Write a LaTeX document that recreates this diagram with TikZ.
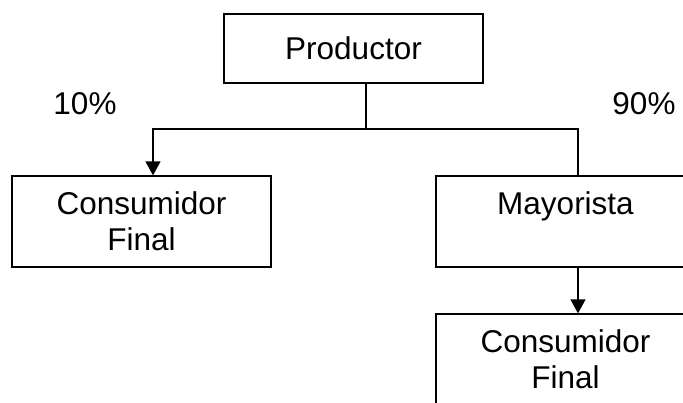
\documentclass[tikz,border=0pt]{standalone}
\usepackage{fontspec}
\setmainfont{Liberation Sans}
\usetikzlibrary{arrows.meta}
\tikzset{
  box/.style={draw, line width=1.3pt, minimum width=259pt, align=center, inner sep=0pt, font=\fontsize{31.5}{36}\selectfont},
  lbl/.style={inner sep=0pt, font=\fontsize{31.5}{36}\selectfont},
  conn/.style={line width=1.3pt},
  arr/.style={conn, -{Triangle[length=14pt,width=15pt]}}
}
\begin{document}
\begin{tikzpicture}[x=1pt,y=-1pt]
\clip (0,0) rectangle (683,402);
\fill[white] (0,0) rectangle (683,402);
\node[box, minimum height=69pt] (prod) at (353.5,48.5) {Productor};
\node[box, minimum height=91pt] (left) at (141.5,221.5) {Consumidor\\Final};
\node[box, minimum height=91pt] (may) at (565.5,221.5) {Mayorista\\\phantom{Final}};
\node[box, minimum height=91pt] (low) at (565.5,359.5) {Consumidor\\Final};
\node[lbl] (p10) at (85,104) {10\%};
\node[lbl] (p90) at (644,104) {90\%};
\coordinate (j) at (366,129);
\coordinate (la) at (153,129);
\coordinate (ra) at (578,129);
\draw[conn] (prod.south -| j) -- (j);
\draw[arr] (j) -- (la) -- (la |- left.north);
\draw[conn] (j) -- (ra) -- (ra |- may.north);
\draw[arr] (ra |- may.south) -- (ra |- low.north);
\end{tikzpicture}
\end{document}
